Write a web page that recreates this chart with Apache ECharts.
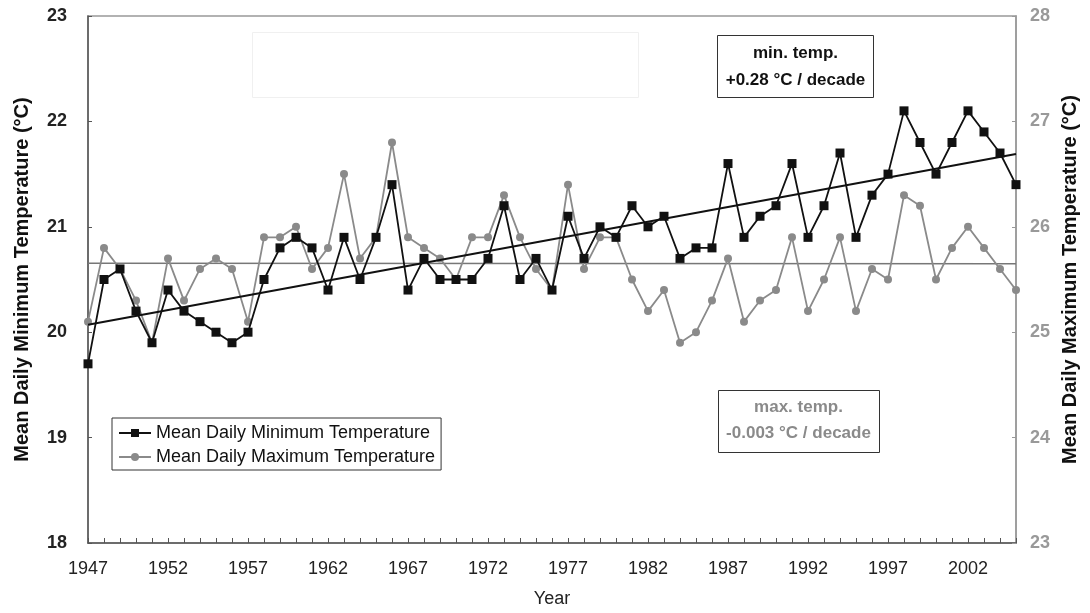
<!DOCTYPE html>
<html>
<head>
<meta charset="utf-8">
<script src="https://cdn.jsdelivr.net/npm/echarts@6/dist/echarts.min.js"></script>
<style>html,body{margin:0;padding:0;background:#fff}#c{width:1090px;height:613px}</style>
</head>
<body>
<div id="c"></div>
<script>
const years = [];
for (let y = 1947; y <= 2005; y++) years.push(String(y));

const minTemp = [19.7,20.5,20.6,20.2,19.9,20.4,20.2,20.1,20.0,19.9,
  20.0,20.5,20.8,20.9,20.8,20.4,20.9,20.5,20.9,21.4,
  20.4,20.7,20.5,20.5,20.5,20.7,21.2,20.5,20.7,20.4,
  21.1,20.7,21.0,20.9,21.2,21.0,21.1,20.7,20.8,20.8,
  21.6,20.9,21.1,21.2,21.6,20.9,21.2,21.7,20.9,21.3,
  21.5,22.1,21.8,21.5,21.8,22.1,21.9,21.7,21.4];

const maxTemp = [25.1,25.8,25.6,25.3,24.9,25.7,25.3,25.6,25.7,25.6,
  25.1,25.9,25.9,26.0,25.6,25.8,26.5,25.7,25.9,26.8,
  25.9,25.8,25.7,25.5,25.9,25.9,26.3,25.9,25.6,25.4,
  26.4,25.6,25.9,25.9,25.5,25.2,25.4,24.9,25.0,25.3,
  25.7,25.1,25.3,25.4,25.9,25.2,25.5,25.9,25.2,25.6,
  25.5,26.3,26.2,25.5,25.8,26.0,25.8,25.6,25.4];

const minTrendYears = ['1947','2005'];
const minTrendValues = [20.07, 21.69];
const maxTrendYears = ['1947','2005'];
const maxTrendValues = [25.655, 25.65];

const leftTicks = [18,19,20,21,22,23];
const rightTicks = [23,24,25,26,27,28];

const chart = echarts.init(document.getElementById('c'), null, {renderer:'canvas'});
const FONT = '"Liberation Sans", Arial, sans-serif';

chart.setOption({
  backgroundColor: '#fff',
  animation: false,
  grid: {left: 88, right: 74, top: 16, bottom: 66, show: true, borderColor: '#999', borderWidth: 1.5},
  legend: {
    orient: 'vertical', left: 112, top: 418,
    data: ['Mean Daily Minimum Temperature','Mean Daily Maximum Temperature'],
    itemWidth: 32, itemHeight: 10, itemGap: 6,
    borderColor: '#333', borderWidth: 1, padding: [6, 6, 4, 6],
    textStyle: {fontFamily: FONT, fontSize: 18, lineHeight: 18, color: '#111'},
    backgroundColor: '#fff'
  },
  xAxis: {
    type: 'category', data: years, boundaryGap: false,
    name: 'Year', nameLocation: 'middle', nameGap: 47,
    nameTextStyle: {fontFamily: FONT, fontSize: 18, color: '#222'},
    axisLine: {lineStyle: {color: '#555', width: 1.5}},
    axisTick: {inside: true, length: 5, interval: 0, alignWithLabel: true, lineStyle: {color: '#555'}},
    axisLabel: {interval: (i) => i % 5 === 0, fontFamily: FONT, fontSize: 18, color: '#222', margin: 17},
    splitLine: {show: false}
  },
  yAxis: [
    {
      type: 'value', min: leftTicks[0], max: leftTicks[leftTicks.length-1], interval: 1,
      name: 'Mean Daily Minimum Temperature (°C)', nameLocation: 'middle', nameGap: 56, nameRotate: 90,
      nameTextStyle: {fontFamily: FONT, fontSize: 20, fontWeight: 'bold', color: '#111'},
      axisLine: {show: true, lineStyle: {color: '#555', width: 1.5}},
      axisTick: {show: true, inside: true, length: 4, lineStyle: {color: '#555'}},
      axisLabel: {fontFamily: FONT, fontSize: 18, fontWeight: 'bold', color: '#222', margin: 21},
      splitLine: {show: false}
    },
    {
      type: 'value', min: rightTicks[0], max: rightTicks[rightTicks.length-1], interval: 1,
      name: 'Mean Daily Maximum Temperature (°C)', nameLocation: 'middle', nameGap: 54, nameRotate: 90,
      nameTextStyle: {fontFamily: FONT, fontSize: 20, fontWeight: 'bold', color: '#111', verticalAlign: 'bottom'},
      axisLine: {show: true, lineStyle: {color: '#999', width: 1.5}},
      axisTick: {show: true, inside: true, length: 4, lineStyle: {color: '#999'}},
      axisLabel: {fontFamily: FONT, fontSize: 18, fontWeight: 'bold', color: '#999', margin: 14},
      splitLine: {show: false}
    }
  ],
  series: [
    {
      name: 'Mean Daily Maximum Temperature', type: 'line', yAxisIndex: 1, data: maxTemp,
      symbol: 'circle', symbolSize: 8,
      lineStyle: {color: '#8a8a8a', width: 1.8}, itemStyle: {color: '#8a8a8a'}, z: 3
    },
    {
      name: 'maxTrend', type: 'line', yAxisIndex: 1,
      data: maxTrendYears.map((y,i) => [y, maxTrendValues[i]]),
      symbol: 'none', lineStyle: {color: '#777', width: 1.5}, z: 2
    },
    {
      name: 'Mean Daily Minimum Temperature', type: 'line', yAxisIndex: 0, data: minTemp,
      symbol: 'rect', symbolSize: 9,
      lineStyle: {color: '#111', width: 1.8}, itemStyle: {color: '#111'}, z: 5
    },
    {
      name: 'minTrend', type: 'line', yAxisIndex: 0,
      data: minTrendYears.map((y,i) => [y, minTrendValues[i]]),
      symbol: 'none', lineStyle: {color: '#111', width: 2}, z: 4
    }
  ],
  graphic: [
    {type: 'rect', left: 252, top: 32, shape: {width: 386, height: 65},
     style: {fill: '#fff', stroke: '#f0f0f0', lineWidth: 1}, z: 0, silent: true},
    {type: 'group', left: 717, top: 35, children: [
      {type: 'rect', shape: {x: 0, y: 0, width: 156, height: 62}, style: {fill: '#fff', stroke: '#333', lineWidth: 1}},
      {type: 'text', style: {x: 78, y: 18, text: 'min. temp.', align: 'center', verticalAlign: 'middle',
        font: 'bold 17px ' + FONT, fill: '#111'}},
      {type: 'text', style: {x: 78, y: 45, text: '+0.28 °C / decade', align: 'center', verticalAlign: 'middle',
        font: 'bold 17px ' + FONT, fill: '#111'}}
    ], z: 10},
    {type: 'group', left: 718, top: 390, children: [
      {type: 'rect', shape: {x: 0, y: 0, width: 161, height: 62}, style: {fill: '#fff', stroke: '#333', lineWidth: 1}},
      {type: 'text', style: {x: 80, y: 17, text: 'max. temp.', align: 'center', verticalAlign: 'middle',
        font: 'bold 17px ' + FONT, fill: '#8a8a8a'}},
      {type: 'text', style: {x: 80, y: 43, text: '-0.003 °C / decade', align: 'center', verticalAlign: 'middle',
        font: 'bold 17px ' + FONT, fill: '#8a8a8a'}}
    ], z: 10}
  ]
});
</script>
</body>
</html>
